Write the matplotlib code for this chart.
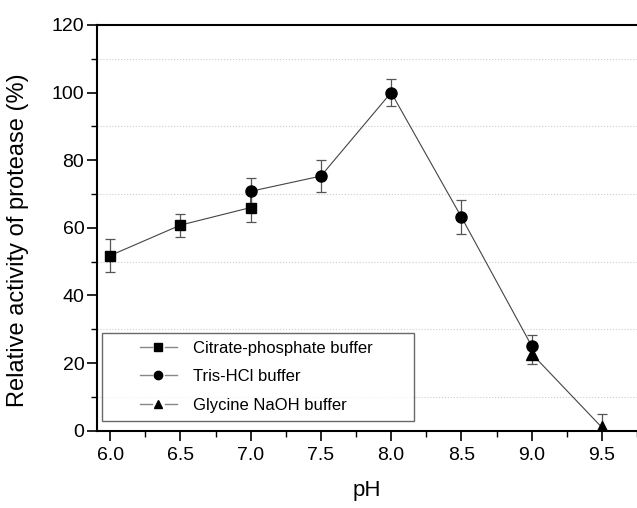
import matplotlib.pyplot as plt
from matplotlib.lines import Line2D
from matplotlib.legend_handler import HandlerBase
from matplotlib.ticker import MultipleLocator

plt.rcParams['font.family'] = ['Liberation Sans', 'DejaVu Sans']

# data
ph_cp = [6.0, 6.5, 7.0]
act_cp = [51.8, 60.8, 66.0]
err_cp = [4.8, 3.4, 4.3]

ph_tris = [7.0, 7.5, 8.0, 8.5, 9.0]
act_tris = [70.8, 75.3, 100.0, 63.2, 25.1]
err_tris = [3.9, 4.7, 3.9, 4.9, 3.2]

ph_gly = [9.0, 9.5]
act_gly = [22.8, 1.0]
err_gly = [3.0, 4.0]

labels = ['Citrate-phosphate buffer', 'Tris-HCl buffer', 'Glycine NaOH buffer']


class GapHandler(HandlerBase):
    # legend key: short line, marker, short line, indented from the frame
    def create_artists(self, legend, orig_handle, xdescent, ydescent,
                       width, height, fontsize, trans):
        x0 = -xdescent + 0.45 * width
        x1 = -xdescent + width
        xm = (x0 + x1) / 2
        y = -ydescent + height / 2
        gap = 0.1 * width
        left = Line2D([x0, xm - gap], [y, y], color='#888888', lw=1.0)
        right = Line2D([xm + gap, x1], [y, y], color='#888888', lw=1.0)
        mk = Line2D([xm], [y], ls='none', marker=orig_handle.get_marker(),
                    ms=6, color='black')
        for a in (left, right, mk):
            a.set_transform(trans)
        return [left, right, mk]


fig = plt.figure(figsize=(6.37, 5.08), dpi=100)
ax = fig.add_axes([0.152, 0.152, 0.848, 0.799])

# connecting line through all points in pH order
x_all = ph_cp + ph_tris + ph_gly
y_all = act_cp + act_tris + act_gly
ax.plot(x_all, y_all, color='#444444', lw=0.8, zorder=2)

series = [(ph_cp, act_cp, err_cp, 's', 7),
          (ph_tris, act_tris, err_tris, 'o', 8),
          (ph_gly, act_gly, err_gly, '^', 8)]
markers = []
for x, y, e, m, ms in series:
    ax.errorbar(x, y, yerr=e, fmt='none', ecolor='#555555', elinewidth=0.9,
                capsize=3.5, capthick=0.9, zorder=3)
    ln, = ax.plot(x, y, ls='none', marker=m, ms=ms, color='black', zorder=4)
    markers.append(ln)

ax.set_xlim(5.905, 9.75)
ax.set_ylim(0, 120)
ax.xaxis.set_minor_locator(MultipleLocator(0.25))
ax.yaxis.set_major_locator(MultipleLocator(20))
ax.yaxis.set_minor_locator(MultipleLocator(10))
ax.set_xticks([6.0, 6.5, 7.0, 7.5, 8.0, 8.5, 9.0, 9.5])
ax.set_xticklabels(['6.0', '6.5', '7.0', '7.5', '8.0', '8.5', '9.0', '9.5'])

for yg in [10, 30, 50, 70, 90, 110]:
    ax.axhline(yg, color='#cccccc', lw=0.8, ls=':', zorder=1)

ax.tick_params(which='major', direction='out', length=7, width=1.2,
               labelsize=14, pad=2)
ax.tick_params(which='minor', direction='out', length=4, width=1.0)
ax.tick_params(axis='x', pad=5)
ax.spines['right'].set_visible(False)
for s in ['left', 'bottom', 'top']:
    ax.spines[s].set_linewidth(1.5)

ax.set_xlabel('pH', fontsize=16, labelpad=11)
ax.set_ylabel('Relative activity of protease (%)', fontsize=17)
ax.yaxis.set_label_coords(-0.125, 0.47)

leg = ax.legend(markers, labels, loc='lower left',
                bbox_to_anchor=(0.0093, 0.0246, 0.578, 0.2), mode='expand',
                fontsize=12, frameon=True, fancybox=False,
                handler_map={Line2D: GapHandler()},
                handlelength=4.0, handletextpad=1.0, borderpad=0.48,
                labelspacing=0.81, borderaxespad=0)
leg.get_frame().set_edgecolor('#444444')
leg.get_frame().set_linewidth(1.0)

fig.savefig('out.png', dpi=100)
